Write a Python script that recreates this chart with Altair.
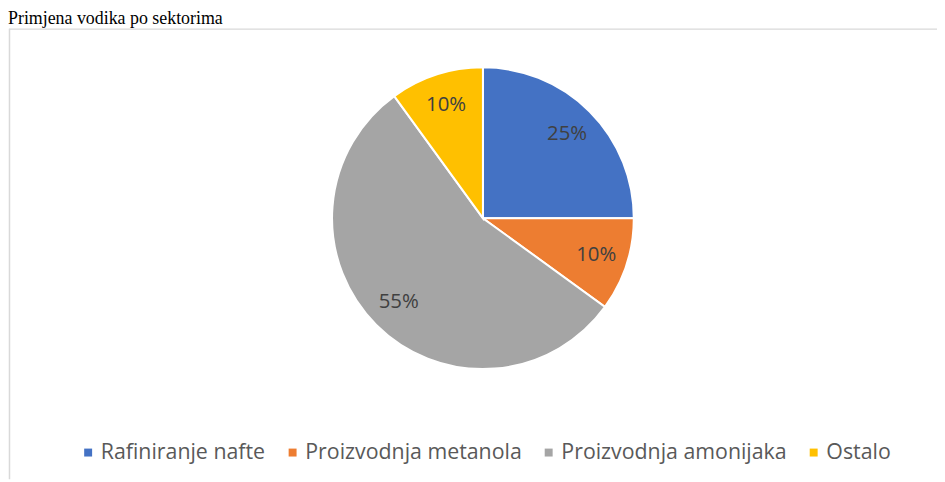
import altair as alt
import pandas as pd

categories = ["Rafiniranje nafte", "Proizvodnja metanola", "Proizvodnja amonijaka", "Ostalo"]
shares = [25, 10, 55, 10]
colors = ["#4472C4", "#ED7D31", "#A5A5A5", "#FFC000"]
title_text = "Primjena vodika po sektorima"

df = pd.DataFrame({"sektor": categories, "udio": shares, "idx": list(range(len(categories)))})
df["oznaka"] = df["udio"].astype(str) + "%"

W, H = 936, 473
CX, CY = 478.5, 210
TOP = 19

base = alt.Chart(df).encode(
    theta=alt.Theta("udio:Q", stack=True),
    order=alt.Order("idx:Q", sort="ascending"),
)

pie = base.mark_arc(outerRadius=152, stroke="white", strokeWidth=2).encode(
    color=alt.Color(
        "sektor:N",
        scale=alt.Scale(domain=categories, range=colors),
        legend=alt.Legend(
            title=None,
            orient="none",
            legendX=70,
            legendY=435,
            direction="horizontal",
            symbolType="square",
            symbolSize=64,
            symbolStrokeWidth=0,
            labelFont="Open Sans",
            labelFontSize=21.5,
            labelColor="#595959",
            labelOffset=2,
            labelLimit=400,
            columnPadding=16,
            padding=0,
        ),
    ),
    x=alt.value(CX),
    y=alt.value(CY),
)

labels = base.mark_text(radius=120, font="Open Sans", fontSize=20.5, color="#404040").encode(
    text="oznaka:N",
    x=alt.value(CX),
    y=alt.value(CY),
)

one = pd.DataFrame({"t": [title_text]})
title = alt.Chart(one).mark_text(
    font="Liberation Serif", fontSize=18, color="#000000", align="left", baseline="alphabetic"
).encode(text="t:N", x=alt.value(0), y=alt.value(14))

border_top = alt.Chart(one).mark_rule(color="#d9d9d9", strokeWidth=1.5).encode(
    x=alt.value(1), x2=alt.value(936), y=alt.value(TOP + 0.5)
)
border_left = alt.Chart(one).mark_rule(color="#d9d9d9", strokeWidth=1.5).encode(
    x=alt.value(1.5), y=alt.value(TOP), y2=alt.value(H)
)

chart = alt.layer(border_top, border_left, title, pie, labels).properties(
    width=W, height=H, autosize=alt.AutoSizeParams(type="none"), padding=0
).configure_view(stroke=None)

chart.save("out.html", embed_options={"renderer": "svg", "actions": False})
